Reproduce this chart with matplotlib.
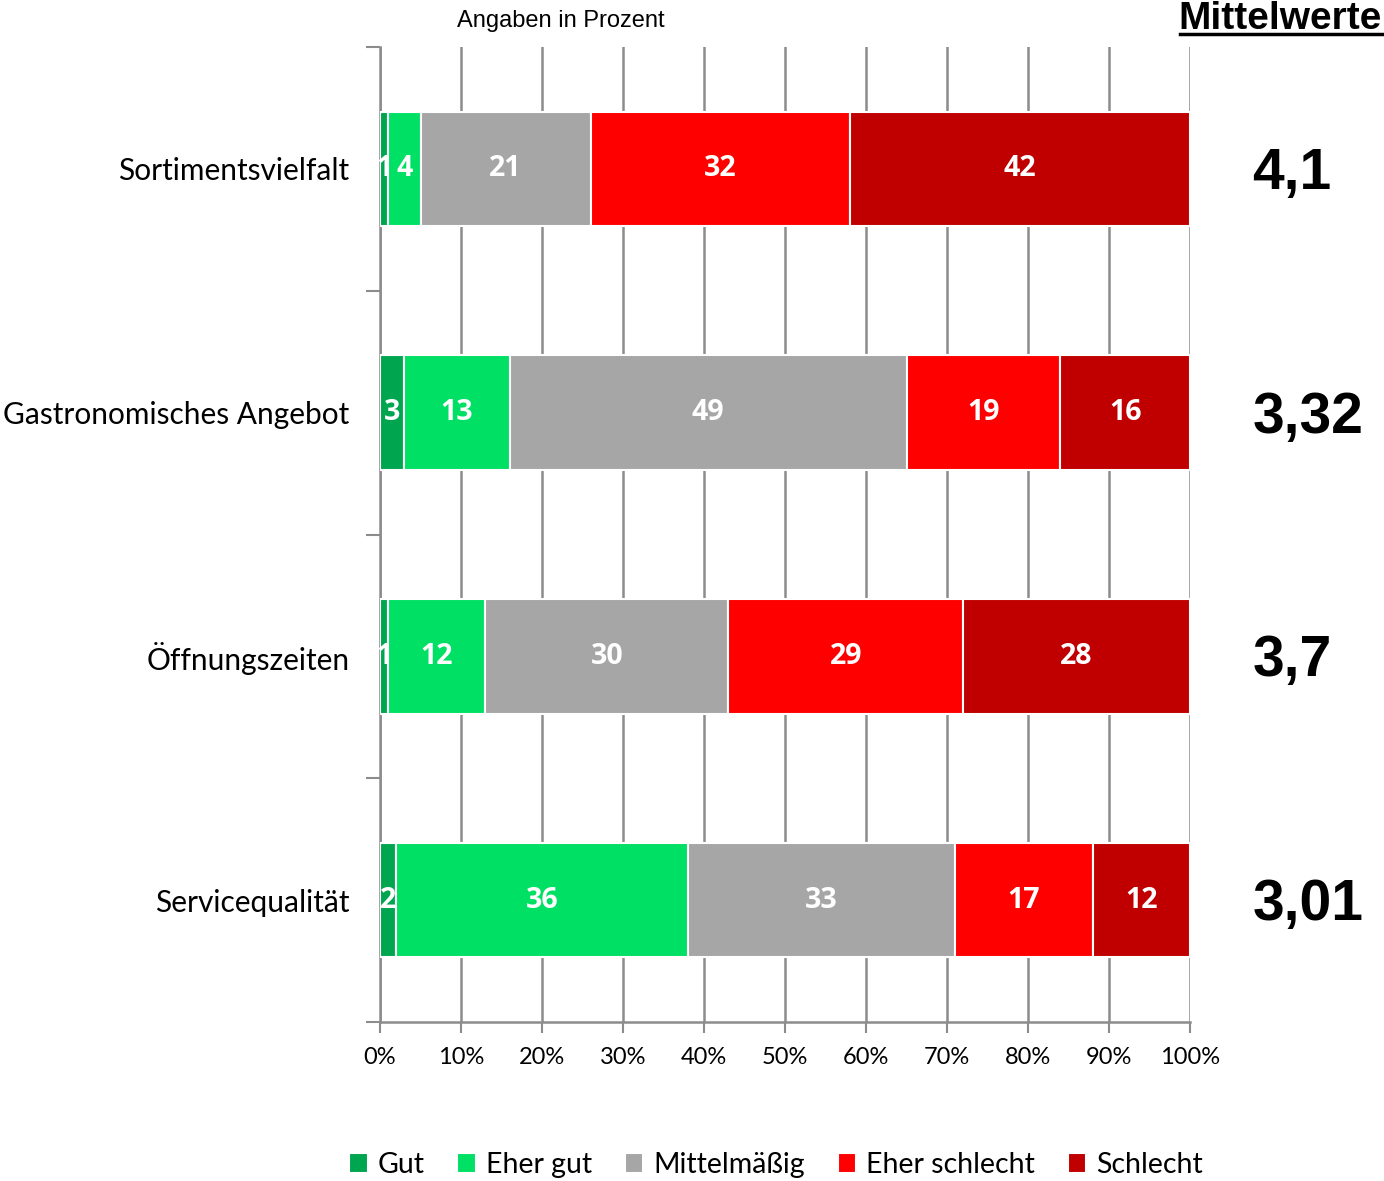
import numpy as np
import matplotlib
matplotlib.use("Agg")
from matplotlib import pyplot as plt
from matplotlib.lines import Line2D

# survey answers per aspect, in percent
aspects = ["Sortimentsvielfalt", "Gastronomisches Angebot", "Öffnungszeiten", "Servicequalität"]
answers = ["Gut", "Eher gut", "Mittelmäßig", "Eher schlecht", "Schlecht"]
gut = [1, 3, 1, 2]
eher_gut = [4, 13, 12, 36]
mittel = [21, 49, 30, 33]
eher_schlecht = [32, 19, 29, 17]
schlecht = [42, 16, 28, 12]
means = ["4,1", "3,32", "3,7", "3,01"]

colors = ["#00a550", "#00e064", "#a6a6a6", "#ff0000", "#c00000"]

label_font = "Lato"
grid_gray = "#8c8c8c"

values = np.array([gut, eher_gut, mittel, eher_schlecht, schlecht], dtype=float)
shares = values / values.sum(axis=0) * 100  # 100 % stacked

fig = plt.figure(figsize=(13.84, 11.81), dpi=100)
ax = fig.add_axes([380 / 1384, 1 - 1022 / 1181, 810 / 1384, 975 / 1181])

y = np.arange(len(aspects))
left = np.zeros(len(aspects))
for i, name in enumerate(answers):
    bars = ax.barh(y, shares[i], left=left, height=0.47, color=colors[i],
                   edgecolor="white", linewidth=1.5, label=name, zorder=3)
    ax.bar_label(bars, labels=[str(int(v)) for v in values[i]], label_type="center",
                 color="white", fontsize=20.5, fontweight="bold", family="Open Sans")
    left += shares[i]

ax.set_xlim(0, 100)
ax.set_ylim(3.5, -0.5)
ax.set_xticks(np.arange(0, 101, 10))
ax.set_xticklabels([f"{v}%" for v in range(0, 101, 10)], fontsize=17, family=label_font)
ax.set_yticks(y)
ax.set_yticklabels(aspects, fontsize=21.5, family=label_font)
ax.set_yticks(np.arange(-0.5, 3.6, 1), minor=True)
ax.tick_params(axis="y", which="major", length=0, pad=22)
ax.tick_params(axis="y", which="minor", length=10, width=1.5, color=grid_gray)
ax.tick_params(axis="x", length=8, width=1.5, color=grid_gray, pad=10)

ax.grid(axis="x", color=grid_gray, linewidth=1.8, zorder=0)
ax.set_axisbelow(True)
for side in ["top", "right"]:
    ax.spines[side].set_visible(False)
for side in ["left", "bottom"]:
    ax.spines[side].set_color(grid_gray)
    ax.spines[side].set_linewidth(1.8)

# mean values to the right of the bars
for k, m in enumerate(means):
    ax.text(107.7, k + 0.02, m, ha="left", va="center", fontsize=41, fontweight="bold",
            family="Liberation Sans", clip_on=False)

fig.text(561 / 1384, 1 - 21 / 1181, "Angaben in Prozent", ha="center", va="center",
         fontsize=17, family="Liberation Sans")
fig.text(1382 / 1384, 1 - 29 / 1181, "Mittelwerte", ha="right", va="baseline",
         fontsize=28, fontweight="bold", family="Liberation Sans")
fig.add_artist(Line2D([1180 / 1384, 1382 / 1384], [1 - 34 / 1181, 1 - 34 / 1181],
                      color="black", linewidth=2.5))

fig.legend(loc="center", bbox_to_anchor=(776 / 1384, 1 - 1165 / 1181), ncol=5,
           frameon=False, prop={"family": label_font, "size": 20.5},
           handlelength=0.65, handleheight=0.65, handletextpad=0.35, columnspacing=1.15)

fig.savefig("out.png", dpi=100)
